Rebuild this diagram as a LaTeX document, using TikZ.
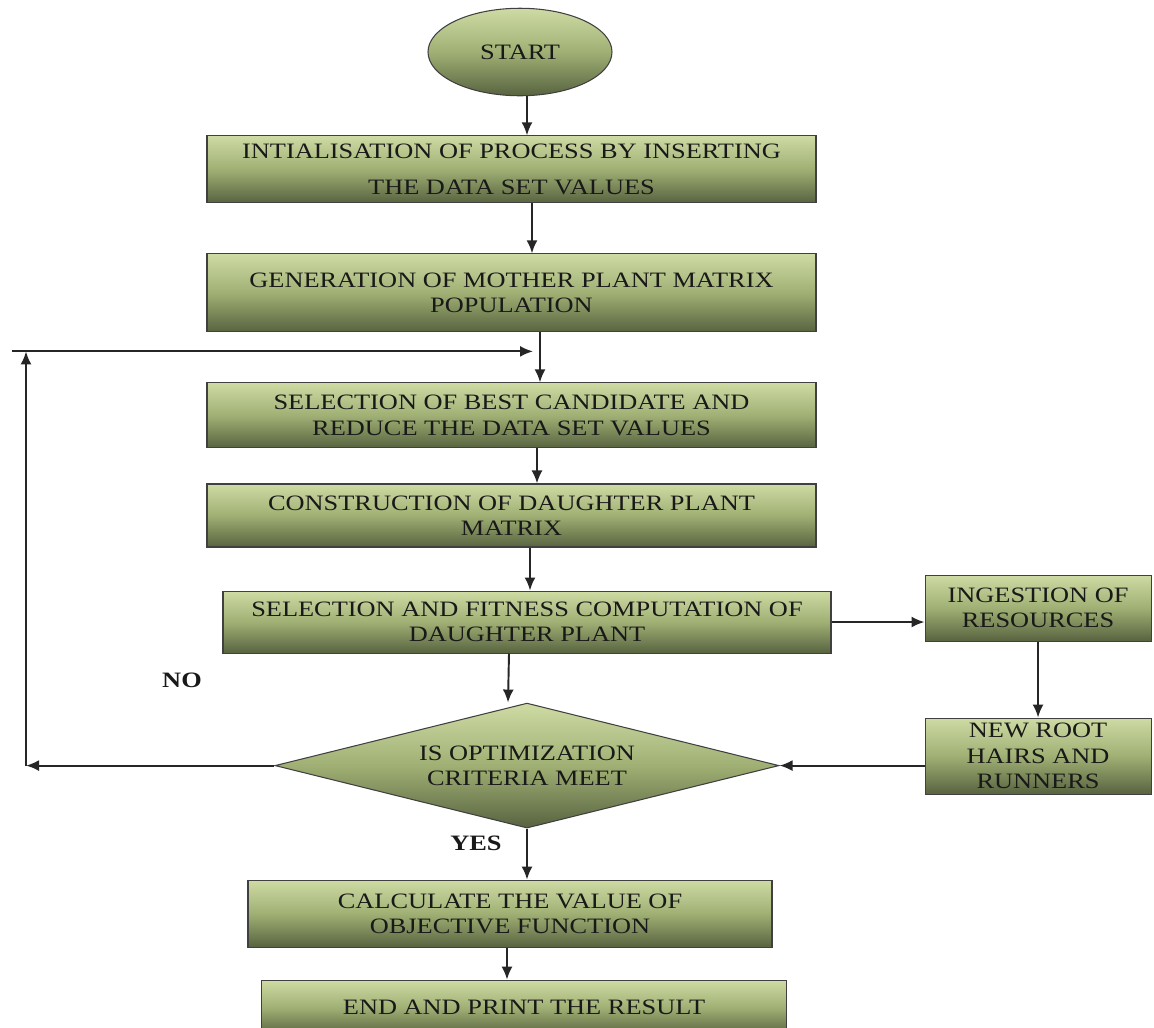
\documentclass[tikz,border=0pt]{standalone}
\usepackage{fontspec}
\setmainfont{Liberation Serif}[FakeStretch=1.2]
\usepackage{tikz}
\usetikzlibrary{calc, positioning, arrows.meta, shapes.geometric}
\definecolor{leafTop}{RGB}{206,219,164}
\definecolor{leafMid}{RGB}{160,176,116}
\definecolor{leafBot}{RGB}{88,99,64}

\begin{document}
\begin{tikzpicture}[
    node distance=1cm,
    every node/.style={font=\fontsize{12.5}{14.5}\selectfont, align=center, text=black!90},
    process/.style={draw=black!75, line width=0.6pt, rectangle, top color=leafTop, bottom color=leafBot, middle color=leafMid, minimum width=12.18cm, minimum height=1.3cm, inner sep=2pt},
    terminal/.style={process, ellipse, minimum width=3.68cm, minimum height=1.75cm},
    decision/.style={process, diamond, aspect=4, minimum width=10.08cm, minimum height=2.5cm, inner sep=0pt},
    answer/.style={font=\bfseries\fontsize{12.5}{14}\selectfont},
    arrow/.style={-{Latex[length=2.6mm, width=2.2mm]}, line width=1.1pt, draw=black!85}
]
\useasboundingbox (0,0) rectangle (23.08,-20.54);

\node[terminal] (start) at (10.40,-1.04) {START};
\node[process, minimum height=1.34cm, below=0.78cm of start, xshift=-0.17cm] (init) {INTIALISATION OF PROCESS BY INSERTING\\[6pt]THE DATA SET VALUES};
\node[process, minimum height=1.56cm, below=1cm of init] (mother) {GENERATION OF MOTHER PLANT MATRIX\\POPULATION};
\node[process, below=1cm of mother] (select) {SELECTION OF BEST CANDIDATE AND\\REDUCE THE DATA SET VALUES};
\node[process, minimum height=1.26cm, below=0.7cm of select] (daughter) {CONSTRUCTION OF DAUGHTER PLANT\\MATRIX};
\node[process, minimum width=12.16cm, minimum height=1.24cm, below=0.86cm of daughter, xshift=0.31cm] (fitness) {SELECTION AND FITNESS COMPUTATION OF\\DAUGHTER PLANT};
\node[decision, below=0.98cm of fitness] (check) {IS OPTIMIZATION\\CRITERIA MEET};
\node[process, minimum width=10.48cm, minimum height=1.34cm, below=1.02cm of check, xshift=-0.34cm] (calc) {CALCULATE THE VALUE OF\\OBJECTIVE FUNCTION};
\node[process, minimum width=10.5cm, minimum height=1.1cm, below=0.64cm of calc, xshift=0.28cm] (finish) {END AND PRINT THE RESULT};
\node[process, minimum width=4.52cm, minimum height=1.32cm, right=1.86cm of fitness, yshift=0.28cm] (ingest) {INGESTION OF\\RESOURCES};
\node[process, minimum width=4.52cm, minimum height=1.52cm, below=1.52cm of ingest] (roots) {NEW ROOT\\HAIRS AND\\RUNNERS};

\node[answer] (no) at (3.64,-13.6) {NO};
\node[answer] (yes) at (9.52,-16.86) {YES};

\coordinate (loopx) at (0.52,0);
\coordinate (loopend) at (0.24,0);
\coordinate (loopy) at ($(mother.south)!0.38!(select.north)$);

\draw[arrow] ([xshift=0.14cm]start.south) -- ([xshift=0.31cm]init.north);
\draw[arrow] ([xshift=0.41cm]init.south) -- ([xshift=0.41cm]mother.north);
\draw[arrow] ([xshift=0.57cm]mother.south) -- ([xshift=0.57cm]select.north);
\draw[arrow] ([xshift=0.51cm]select.south) -- ([xshift=0.51cm]daughter.north);
\draw[arrow] ([xshift=0.37cm]daughter.south) -- ([xshift=0.06cm]fitness.north);
\draw[arrow] ([xshift=-0.36cm]fitness.south) -- ([xshift=-0.38cm]check.north);
\draw[arrow] (check.south) -- ([xshift=0.34cm]calc.north);
\draw[arrow] ([xshift=-0.06cm]calc.south) -- ([xshift=-0.34cm]finish.north);
\draw[arrow] (fitness.east) -- (fitness.east -| ingest.west);
\draw[arrow] (ingest) -- (roots);
\draw[arrow] (roots.west |- check.east) -- (check.east);

% NO branch back to the selection step
\draw[arrow] (check.west) -- (check.west -| loopx);
\draw[arrow] (check.west -| loopx) -- (loopx |- loopy);
\draw[arrow] (loopend |- loopy) -- ([xshift=0.43cm]loopy);

\end{tikzpicture}
\end{document}
